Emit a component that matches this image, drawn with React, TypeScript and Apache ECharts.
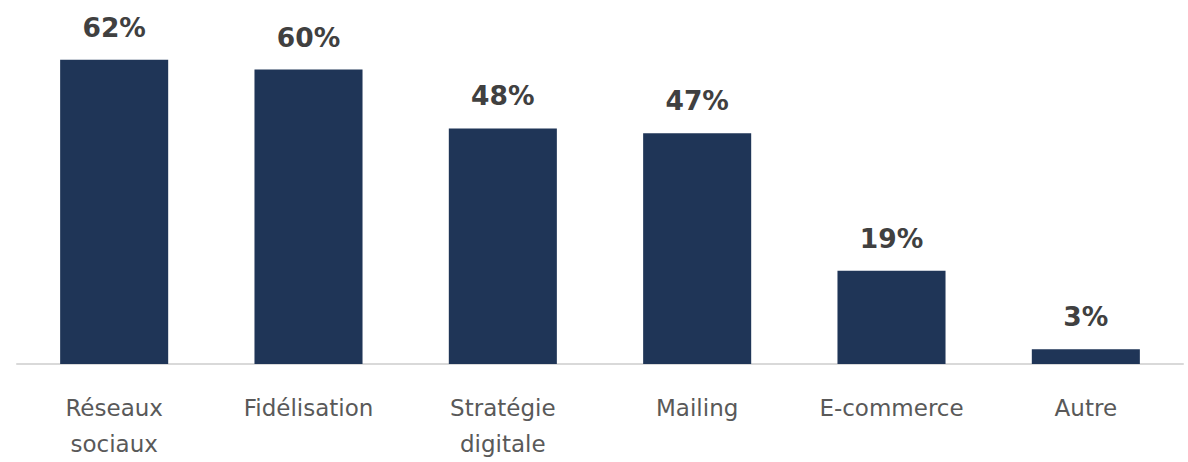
import React, { useEffect, useRef } from "react";
import * as echarts from "echarts";

const categories = ["Réseaux\nsociaux", "Fidélisation", "Stratégie\ndigitale", "Mailing", "E-commerce", "Autre"];
const values = [62, 60, 48, 47, 19, 3];

export default function App() {
  const ref = useRef<HTMLDivElement>(null);
  useEffect(() => {
    const chart = echarts.init(ref.current!, null, { renderer: "svg" });
    chart.setOption({
      animation: false,
      grid: { left: 17, right: 5, top: 20.5, bottom: 91, containLabel: false },
      xAxis: {
        type: "category",
        data: categories,
        axisLine: { lineStyle: { color: "#d9d9d9", width: 2 } },
        axisTick: { show: false },
        axisLabel: {
          color: "#595959",
          fontFamily: "DejaVu Sans",
          fontSize: 23,
          lineHeight: 36,
          margin: 26,
          interval: 0,
        },
      },
      yAxis: {
        type: "value",
        min: 0,
        max: 70,
        show: false,
        splitLine: { show: false },
      },
      series: [
        {
          type: "bar",
          data: values,
          barWidth: "55.6%",
          itemStyle: { color: "#1f3557" },
          label: {
            show: true,
            position: "top",
            distance: 19,
            formatter: "{c}%",
            color: "#404040",
            fontFamily: "DejaVu Sans",
            fontWeight: "bold",
            fontSize: 26.5,
          },
        },
      ],
    });
    return () => chart.dispose();
  }, []);
  return <div ref={ref} style={{ position: "fixed", left: 0, top: 0, width: 1188, height: 462, background: "#fff" }} />;
}
